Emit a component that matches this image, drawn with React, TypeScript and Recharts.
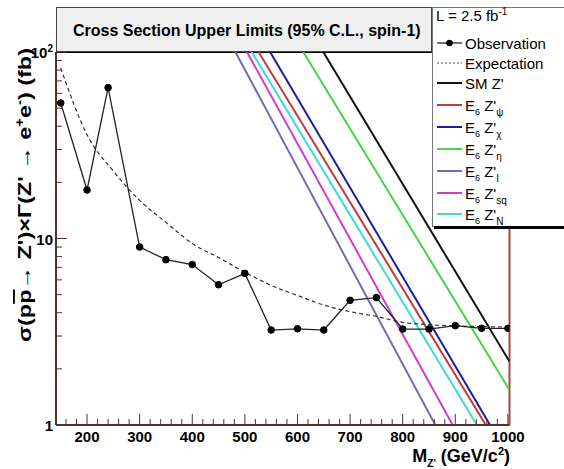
import React from "react";
import { LineChart, Line, XAxis, YAxis, ReferenceLine, Legend } from "recharts";

// observed limit
const obsMass = [150, 200, 240, 300, 350, 400, 450, 500, 550, 600, 650, 700, 750, 800, 850, 900, 950, 1000];
const obsXsec = [53.3, 18.2, 64.4, 9.0, 7.7, 7.25, 5.65, 6.5, 3.23, 3.28, 3.23, 4.66, 4.82, 3.27, 3.27, 3.41, 3.3, 3.3];

// expected limit
const expMass = [150, 200, 250, 300, 350, 400, 450, 500, 550, 600, 650, 700, 750, 800, 850, 900, 950, 1000];
const expXsec = [82, 36, 23, 16, 12.2, 9.4, 7.9, 6.6, 5.6, 4.95, 4.4, 4.05, 3.82, 3.55, 3.45, 3.4, 3.37, 3.35];

// theory curves (edges of the frame)
const smMass = [649, 1003];
const smXsec = [100, 2.19];
const psiMass = [526, 958];
const psiXsec = [100, 1];
const chiMass = [548, 966];
const chiXsec = [100, 1];
const etaMass = [611, 1003];
const etaXsec = [100, 1.54];
const iMass = [482, 862];
const iXsec = [100, 1];
const sqMass = [504, 895];
const sqXsec = [100, 1];
const nMass = [513, 941];
const nXsec = [100, 1];

const xTicks = [
  160, 180, 200, 220, 240, 260, 280, 300, 320, 340, 360, 380, 400, 420, 440, 460, 480, 500,
  520, 540, 560, 580, 600, 620, 640, 660, 680, 700, 720, 740, 760, 780, 800, 820, 840, 860,
  880, 900, 920, 940, 960, 980, 1000,
];
const yTicks = [1, 2, 3, 4, 5, 6, 7, 8, 9, 10, 20, 30, 40, 50, 60, 70, 80, 90, 100];

const AXIS = "#5a2d2d";
const FONT = "'Liberation Sans', Arial, Helvetica, sans-serif";

const toRows = (m: number[], v: number[]) => m.map((mm, i) => ({ m: mm, v: v[i] }));

const models = [
  { key: "sm", sub: "", color: "#111111", rows: toRows(smMass, smXsec) },
  { key: "psi", sub: "ψ", color: "#c23b3b", rows: toRows(psiMass, psiXsec) },
  { key: "chi", sub: "χ", color: "#1e1e96", rows: toRows(chiMass, chiXsec) },
  { key: "eta", sub: "η", color: "#46d446", rows: toRows(etaMass, etaXsec) },
  { key: "I", sub: "I", color: "#6f6fb2", rows: toRows(iMass, iXsec) },
  { key: "sq", sub: "sq", color: "#d03cd0", rows: toRows(sqMass, sqXsec) },
  { key: "N", sub: "N", color: "#40d8d8", rows: toRows(nMass, nXsec) },
];

function XTick(props: any) {
  const { x, y, payload } = props;
  const v = payload.value;
  const major = v % 100 === 0;
  return (
    <g>
      <line x1={x} x2={x} y1={y} y2={y - (major ? 11 : 6)} stroke={AXIS} strokeWidth={1} />
      {major && (
        <text x={x} y={y + 17} textAnchor="middle" fontSize={15} fontWeight="bold" fontFamily={FONT} fill="#000">
          {v}
        </text>
      )}
    </g>
  );
}

function YTick(props: any) {
  const { x, y, payload } = props;
  const v = payload.value;
  const major = v === 1 || v === 10 || v === 100;
  return (
    <g>
      <line x1={x} x2={x + (major ? 11 : 6)} y1={y} y2={y} stroke={AXIS} strokeWidth={1} />
      {major && (
        <text x={x - 3} y={y + 6} textAnchor="end" fontSize={15} fontWeight="bold" fontFamily={FONT} fill="#000">
          {v === 100 ? (
            <>
              10<tspan dy={-6} fontSize={10}>2</tspan>
            </>
          ) : (
            v
          )}
        </text>
      )}
    </g>
  );
}

function LegendBox() {
  const rowY = [36, 56, 76, 98, 120, 142, 164, 186, 207];
  return (
    <svg width={132} height={224} style={{ display: "block" }} fontFamily={FONT}>
      <rect x={0.5} y={0.5} width={140} height={219} fill="#fff" stroke="#777" />
      <rect x={2} y={219} width={132} height={3} fill="#000" />
      <text x={4} y={14} fontSize={15}>
        L = 2.5 fb<tspan dy={-6} fontSize={10}>-1</tspan>
      </text>
      <line x1={5} x2={30} y1={rowY[0]} y2={rowY[0]} stroke="#222" strokeWidth={1.3} />
      <circle cx={17.5} cy={rowY[0]} r={3.3} fill="#000" />
      <text x={33} y={rowY[0] + 5.5} fontSize={15}>Observation</text>
      <line x1={5} x2={30} y1={rowY[1]} y2={rowY[1]} stroke="#555" strokeWidth={1} strokeDasharray="2 2" />
      <text x={33} y={rowY[1] + 5.5} fontSize={15}>Expectation</text>
      {models.map((m, i) => {
        const yy = rowY[i + 2];
        return (
          <g key={m.key}>
            <line x1={5} x2={30} y1={yy} y2={yy} stroke={m.color} strokeWidth={2} />
            {m.sub === "" ? (
              <text x={33} y={yy + 5.5} fontSize={15}>SM Z'</text>
            ) : (
              <text x={33} y={yy + 5.5} fontSize={15}>
                E<tspan dy={4} fontSize={9}>6</tspan>
                <tspan dy={-4}> Z'</tspan>
                <tspan dy={5} fontSize={10}>{m.sub}</tspan>
              </text>
            )}
          </g>
        );
      })}
    </svg>
  );
}

export default function App() {
  return (
    <div style={{ position: "absolute", left: 0, top: 0, width: 564, height: 469, background: "#fff" }}>
      <LineChart width={564} height={469} margin={{ top: 52, right: 54.5, bottom: 43, left: 55 }}>
        <XAxis
          type="number"
          dataKey="m"
          domain={[141, 1003]}
          allowDataOverflow
          ticks={xTicks}
          interval={0}
          tick={<XTick />}
          tickLine={false}
          tickSize={0}
          tickMargin={0}
          height={1}
          axisLine={{ stroke: AXIS, strokeWidth: 2 }}
        />
        <YAxis
          type="number"
          scale="log"
          domain={[1, 100]}
          allowDataOverflow
          ticks={yTicks}
          interval={0}
          tick={<YTick />}
          tickLine={false}
          tickSize={0}
          tickMargin={0}
          width={1}
          axisLine={{ stroke: AXIS, strokeWidth: 2 }}
        />
        <ReferenceLine x={1003} stroke="#a54545" strokeWidth={2} />
        <ReferenceLine y={100} stroke="#000" strokeWidth={2} />
        {models.map((m) => (
          <Line
            key={m.key}
            data={m.rows}
            dataKey="v"
            stroke={m.color}
            strokeWidth={2}
            dot={false}
            isAnimationActive={false}
          />
        ))}
        <Line
          data={toRows(expMass, expXsec)}
          dataKey="v"
          type="monotone"
          stroke="#333"
          strokeWidth={1.2}
          strokeDasharray="4 3"
          dot={false}
          isAnimationActive={false}
        />
        <Line
          data={toRows(obsMass, obsXsec)}
          dataKey="v"
          stroke="#222"
          strokeWidth={1.3}
          dot={{ r: 3.3, fill: "#000", stroke: "#000", strokeWidth: 1 }}
          isAnimationActive={false}
        />
        <Legend
          content={() => <LegendBox />}
          layout="vertical"
          align="center"
          verticalAlign="middle"
          wrapperStyle={{ left: 432, top: 7, width: 132, height: 224 }}
        />
      </LineChart>
      <svg
        width={564}
        height={469}
        style={{ position: "absolute", left: 0, top: 0, pointerEvents: "none" }}
        fontFamily={FONT}
      >
        <rect x={56.5} y={7.5} width={375} height={44} fill="#efefef" stroke="#444" />
        <text x={73} y={36} fontSize={16} fontWeight="bold" fill="#000">
          Cross Section Upper Limits (95% C.L., spin-1)
        </text>
        <text
          transform="translate(31,195) rotate(-90)"
          textAnchor="middle"
          fontSize={19}
          fontWeight="bold"
          fill="#000"
          textLength={294}
          lengthAdjust="spacingAndGlyphs"
        >
          σ(p<tspan style={{ textDecoration: "overline" }}>p</tspan>→ Z')×Γ(Z' → e
          <tspan dy={-7} fontSize={12}>+</tspan>
          <tspan dy={7}>e</tspan>
          <tspan dy={-7} fontSize={12}>-</tspan>
          <tspan dy={7}>) (fb)</tspan>
        </text>
        <text x={510} y={462} textAnchor="end" fontSize={18} fontWeight="bold" fill="#000">
          M<tspan dy={5} fontSize={10}>Z'</tspan>
          <tspan dy={-5}> (GeV/c</tspan>
          <tspan dy={-7} fontSize={11}>2</tspan>
          <tspan dy={7}>)</tspan>
        </text>
      </svg>
    </div>
  );
}
